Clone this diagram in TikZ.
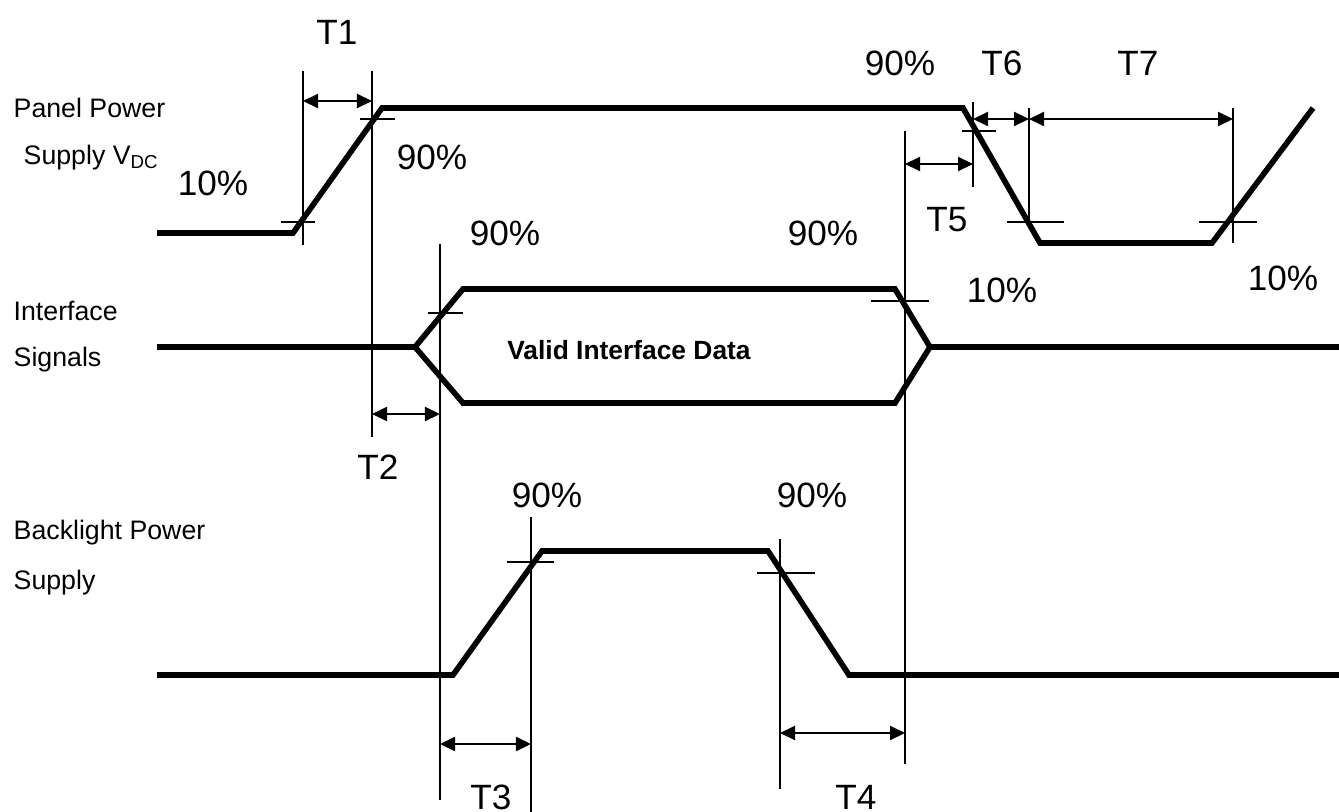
\documentclass[tikz,border=0pt]{standalone}
\usepackage{fontspec}
\setmainfont{Liberation Sans}
\usetikzlibrary{arrows.meta}

\begin{document}
\begin{tikzpicture}[x=0.01cm,y=-0.01cm]
\tikzset{
	wave/.style={line width=1.6pt, line join=miter},
	guide/.style={line width=0.45pt},
	dim/.style={line width=0.6pt, {Triangle[length=1.5mm,width=1.4mm]}-{Triangle[length=1.5mm,width=1.4mm]}},
	lbl/.style={font=\fontsize{10}{12}\selectfont, inner sep=0pt},
	sig/.style={font=\fontsize{7.6}{9}\selectfont, anchor=west, inner sep=0pt}
}
\useasboundingbox (0,0) rectangle (1339,812);

% signal names
\node[sig] (pp_a) at (13,108) {Panel Power};
\node[sig] (pp_b) at (23,158) {Supply V\textsubscript{DC}};
\node[sig] (if_a) at (13,311) {Interface};
\node[sig] (if_b) at (13,360) {Signals};
\node[sig] (bl_a) at (13,533) {Backlight Power};
\node[sig] (bl_b) at (13,583) {Supply};

% panel power
\coordinate (p_0) at (157,233);
\coordinate (p_1) at (293,233);
\coordinate (p_2) at (382,108);
\coordinate (p_3) at (963,108);
\coordinate (p_4) at (1040,243);
\coordinate (p_5) at (1212,243);
\coordinate (p_6) at (1313,108);
\draw[wave] (p_0) -- (p_1) -- (p_2) -- (p_3) -- (p_4) -- (p_5) -- (p_6);

% interface data
\coordinate (i_0) at (157,347);
\coordinate (i_1) at (415,347);
\coordinate (i_2) at (463,289);
\coordinate (i_3) at (895,289);
\coordinate (i_4) at (930,347);
\coordinate (i_5) at (463,403);
\coordinate (i_6) at (895,403);
\coordinate (i_7) at (1339,347);
\draw[wave] (i_0) -- (i_1) -- (i_2) -- (i_3) -- (i_4) -- (i_7);
\draw[wave] (i_1) -- (i_5) -- (i_6) -- (i_4);
\node[font=\bfseries\fontsize{7.5}{9}\selectfont] (data) at (629,350) {Valid Interface Data};

% backlight
\coordinate (b_0) at (157,675);
\coordinate (b_1) at (453,675);
\coordinate (b_2) at (542,551);
\coordinate (b_3) at (768,551);
\coordinate (b_4) at (849,675);
\coordinate (b_5) at (1339,675);
\draw[wave] (b_0) -- (b_1) -- (b_2) -- (b_3) -- (b_4) -- (b_5);

% vertical guides
\coordinate (v1_t) at (303,71);   \coordinate (v1_b) at (303,245);
\coordinate (v2_t) at (372,71);   \coordinate (v2_b) at (372,437);
\coordinate (v3_t) at (440,244);  \coordinate (v3_b) at (440,800);
\coordinate (v4_t) at (531,517);  \coordinate (v4_b) at (531,812);
\coordinate (v5_t) at (780,539);  \coordinate (v5_b) at (780,789);
\coordinate (v6_t) at (905,131);  \coordinate (v6_b) at (905,764);
\coordinate (v7_t) at (973,102);  \coordinate (v7_b) at (973,187);
\coordinate (v8_t) at (1029,108); \coordinate (v8_b) at (1029,226);
\coordinate (v9_t) at (1233,108); \coordinate (v9_b) at (1233,243);
\foreach \v in {1,...,9}
	\draw[guide] (v\v_t) -- (v\v_b);

% 10% / 90% marks
\draw[guide] (281,222) -- (315,222);
\draw[guide] (360,119) -- (395,119);
\draw[guide] (428,313) -- (463,313);
\draw[guide] (871,301) -- (929,301);
\draw[guide] (507,562) -- (554,562);
\draw[guide] (757,573) -- (815,573);
\draw[guide] (962,131) -- (996,131);
\draw[guide] (1007,222) -- (1064,222);
\draw[guide] (1199,222) -- (1257,222);

% timing arrows
\draw[dim] (303,101) -- (372,101);
\draw[dim] (372,414) -- (440,414);
\draw[dim] (440,744) -- (531,744);
\draw[dim] (780,733) -- (905,733);
\draw[dim] (905,164) -- (973,164);
\draw[dim] (973,119) -- (1029,119);
\draw[dim] (1029,119) -- (1233,119);

% labels
\node[lbl] (t1) at (337,32) {T1};
\node[lbl] (t2) at (378,467) {T2};
\node[lbl] (t3) at (491,797) {T3};
\node[lbl] (t4) at (856,797) {T4};
\node[lbl] (t5) at (947,220) {T5};
\node[lbl] (t6) at (1002,63) {T6};
\node[lbl] (t7) at (1138,63) {T7};

\node[lbl] (pc_1) at (213,183) {10\%};
\node[lbl] (pc_2) at (432,157) {90\%};
\node[lbl] (pc_3) at (505,233) {90\%};
\node[lbl] (pc_4) at (823,233) {90\%};
\node[lbl] (pc_5) at (900,63) {90\%};
\node[lbl] (pc_6) at (1002,290) {10\%};
\node[lbl] (pc_7) at (1283,278) {10\%};
\node[lbl] (pc_8) at (547,495) {90\%};
\node[lbl] (pc_9) at (812,495) {90\%};

\end{tikzpicture}
\end{document}
